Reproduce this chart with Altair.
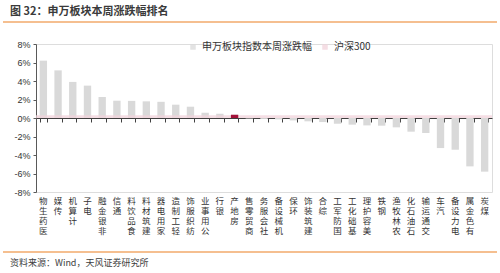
import altair as alt
import pandas as pd

cats = ["医药生物", "传媒", "计算机", "电子", "非银金融", "通信", "食品饮料", "建筑材料",
        "家用电器", "轻工制造", "纺织服饰", "公用事业", "银行", "房地产", "商贸零售", "社会服务",
        "机械设备", "环保", "建筑装饰", "综合", "国防军工", "基础化工", "美容护理", "钢铁",
        "农林牧渔", "石油石化", "交通运输", "汽车", "电力设备", "有色金属", "煤炭"]
vals = [6.2, 5.15, 3.9, 3.5, 2.27, 1.87, 1.85, 1.8, 1.75, 1.44, 1.22, 0.57, 0.46, 0.35,
        -0.05, -0.1, -0.15, -0.26, -0.36, -0.44, -0.62, -0.72, -0.8, -0.83, -1.01,
        -1.48, -1.62, -3.25, -3.43, -5.23, -5.8]
hs300 = 0.3
highlight = "房地产"
series_names = ["申万板块指数本周涨跌幅", "沪深300"]
y_ticks = [-8, -6, -4, -2, 0, 2, 4, 6, 8]

title_text = "图 32：申万板块本周涨跌幅排名"
source_text = "资料来源：Wind，天风证券研究所"

W, H = 456, 148
FONT = "Noto Sans CJK SC"

df = pd.DataFrame({"cat": cats, "val": vals, "series": series_names[0]})
df_hl = df[df["cat"] == highlight]
df_hs = pd.DataFrame({"series": [series_names[1]], "val": [hs300]})

xscale = alt.Scale(paddingInner=0.5, paddingOuter=0.25)
yenc = alt.Y("val:Q", scale=alt.Scale(domain=[-8, 8]),
             axis=alt.Axis(values=y_ticks, labelExpr="datum.value + '%'", grid=False,
                           title=None, domainColor="#595959", tickColor="#595959",
                           tickSize=3, labelPadding=3, labelFont="Liberation Sans",
                           labelFontSize=9, labelColor="#333333"))
color = alt.Color("series:N",
                  scale=alt.Scale(domain=series_names, range=["#d9d9d9", "#f2d3db"]),
                  legend=alt.Legend(orient="none", legendX=152, legendY=-2,
                                    direction="horizontal", title=None,
                                    symbolType="square", symbolSize=30,
                                    symbolStrokeWidth=0,
                                    labelFont=FONT, labelFontSize=10,
                                    labelColor="#333333", columnPadding=8))

xlab = alt.X("cat:N", sort=cats, scale=xscale,
             axis=alt.Axis(orient="bottom", domain=False, ticks=False, title=None,
                           labelAngle=0, labelAlign="center", labelBaseline="top",
                           labelExpr="reverse(split(datum.label, ''))",
                           labelFont=FONT, labelFontSize=8.5, labelLineHeight=10,
                           labelPadding=4, labelColor="#333333"))

bars = alt.Chart(df).mark_bar().encode(x=xlab, y=yenc, color=color)

hs = alt.Chart(df_hs).mark_rect(opacity=0.75).encode(
    x=alt.value(0), x2=alt.value(W), y=yenc, y2=alt.datum(0), color=color)

hl = alt.Chart(df_hl).mark_bar(color="#a3123a").encode(
    x=alt.X("cat:N", sort=cats, scale=xscale, axis=None), y=yenc)

xzero = alt.X("cat:N", sort=cats, scale=xscale,
              axis=alt.Axis(orient="bottom", offset=-H / 2, labels=False, title=None,
                            domain=True, ticks=True, tickBand="extent", tickSize=4,
                            domainColor="#404040", tickColor="#404040"))
zero = alt.Chart(df).mark_tick(opacity=0).encode(x=xzero, y=yenc)

title = alt.Chart(pd.DataFrame({"t": [title_text]})).mark_text(
    align="left", baseline="middle", font=FONT, fontSize=11, fontWeight="bold",
    color="#3a3a3a").encode(text="t:N", x=alt.value(-26), y=alt.value(-32))
source = alt.Chart(pd.DataFrame({"t": [source_text]})).mark_text(
    align="left", baseline="middle", font=FONT, fontSize=9,
    color="#404040").encode(text="t:N", x=alt.value(-26), y=alt.value(219))
line_top = alt.Chart(pd.DataFrame({"a": [0]})).mark_rule(
    color="#f2aa6b", strokeWidth=1.5).encode(
    x=alt.value(-33), x2=alt.value(W + 5), y=alt.value(-22))
line_bot = alt.Chart(pd.DataFrame({"a": [0]})).mark_rule(
    color="#f2aa6b", strokeWidth=1.5).encode(
    x=alt.value(-33), x2=alt.value(W + 5), y=alt.value(208))

chart = alt.layer(bars, hs, hl, zero, title, source, line_top, line_bot).resolve_axis(
    x="independent").properties(
    width=W, height=H,
    autosize=alt.AutoSizeParams(type="none"),
    padding={"left": 36, "top": 44, "right": 8, "bottom": 81},
).configure_view(stroke=None).configure(background="white")

chart.save("out.html", embed_options={"renderer": "svg", "actions": False})
